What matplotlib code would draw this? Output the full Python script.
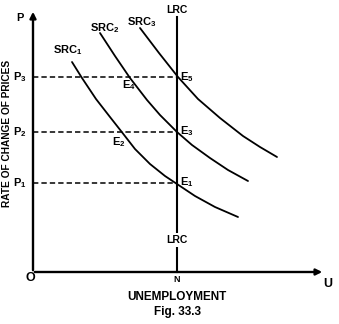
import numpy as np
import matplotlib.pyplot as plt

plt.rcParams['font.family'] = ['Liberation Sans', 'DejaVu Sans']
plt.rcParams['font.weight'] = 'bold'
plt.rcParams['mathtext.fontset'] = 'custom'
plt.rcParams['mathtext.rm'] = 'Liberation Sans:bold'

# short run curves (unemployment, rate of change of prices)
src1_u = [39, 49, 63, 77, 88, 102, 117, 132, 144, 162, 182, 205]
src1_p = [210, 194, 173, 155, 141, 123, 108, 96, 88, 76, 65, 55]
src2_u = [67, 82, 97, 114, 127, 144, 159, 177, 195, 215]
src2_p = [239, 216, 194, 172, 157, 140, 127, 114, 102, 91]
src3_u = [107, 126, 145, 165, 187, 210, 227, 244]
src3_p = [244, 219, 195, 173, 154, 136, 125, 115]

n_level = 144          # natural rate N (LRC)
lrc_top = 255
price_levels = [89, 140, 195]
price_labels = [r'P$_\mathregular{1}$', r'P$_\mathregular{2}$', r'P$_\mathregular{3}$']

fig = plt.figure(figsize=(3.39, 3.24), dpi=100)
ax = fig.add_axes([0, 0, 1, 1])
ax.set_xlim(-33, 306)
ax.set_ylim(-52, 272)
ax.axis('off')

fs = 8

# axes with arrows
ax.annotate('', xy=(0, 263), xytext=(0, -1),
            arrowprops=dict(arrowstyle='-|>', lw=1.7, color='black', mutation_scale=9))
ax.annotate('', xy=(292, 0), xytext=(-1, 0),
            arrowprops=dict(arrowstyle='-|>', lw=1.7, color='black', mutation_scale=9))

# LRC vertical line
ax.plot([n_level, n_level], [0, lrc_top], color='black', lw=1.5)

# curves
for u, p in [(src1_u, src1_p), (src2_u, src2_p), (src3_u, src3_p)]:
    ax.plot(u, p, color='black', lw=1.3, solid_capstyle='round', solid_joinstyle='round')

# dashed price levels
for lvl, lab in zip(price_levels, price_labels):
    ax.plot([0, n_level], [lvl, lvl], color='black', lw=1.1, ls=(0, (3.5, 2)))
    ax.text(-13, lvl, lab, fontsize=fs, ha='center', va='center')

ax.text(-13, 254, 'P', fontsize=fs, ha='center', va='center')
ax.text(-3, -6, 'O', fontsize=fs + 1, ha='center', va='center')
ax.text(n_level, -7, 'N', fontsize=fs - 1.5, ha='center', va='center')
ax.text(295, -12, 'U', fontsize=fs + 1, ha='center', va='center')
ax.text(n_level, -25, 'UNEMPLOYMENT', fontsize=8.5, ha='center', va='center')
ax.text(n_level, -40, 'Fig. 33.3', fontsize=8.5, ha='center', va='center')
ax.text(-26, 139, 'RATE OF CHANGE OF PRICES', fontsize=7.3, ha='center', va='center',
        rotation=90)

ax.text(35, 222, r'SRC$_\mathregular{1}$', fontsize=fs, ha='center', va='center')
ax.text(72, 244, r'SRC$_\mathregular{2}$', fontsize=fs, ha='center', va='center')
ax.text(109, 250, r'SRC$_\mathregular{3}$', fontsize=fs, ha='center', va='center')
ax.text(n_level, 262, 'LRC', fontsize=fs - 0.5, ha='center', va='center')
ax.text(n_level, 32, 'LRC', fontsize=fs - 0.5, ha='center', va='center',
        bbox=dict(facecolor='white', edgecolor='none', pad=1.5))

ax.text(154, 195, r'E$_\mathregular{5}$', fontsize=fs, ha='center', va='center')
ax.text(154, 141, r'E$_\mathregular{3}$', fontsize=fs, ha='center', va='center')
ax.text(154, 90, r'E$_\mathregular{1}$', fontsize=fs, ha='center', va='center')
ax.text(96, 187, r'E$_\mathregular{4}$', fontsize=fs, ha='center', va='center')
ax.text(86, 130, r'E$_\mathregular{2}$', fontsize=fs, ha='center', va='center')

fig.savefig('out.png', dpi=100)
